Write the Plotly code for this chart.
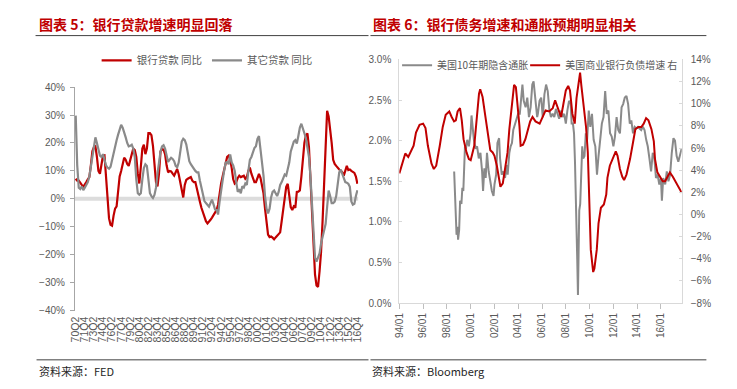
import plotly.graph_objects as go

# ---------------- Left chart data (quarterly, 70Q2 .. 16Q4) ----------------
quarters = []
for i in range(187):
    t = 1970 * 4 + 1 + i
    quarters.append(f"{(t // 4) % 100:02d}Q{t % 4 + 1}")
tick_quarters = quarters[::6]

bank_loans_yoy = [
    7.2, 6.5, 6.5, 5.5, 5, 4.3, 5, 6, 7, 7.8,
    12, 17, 18.5, 18.8, 15, 10, 9, 13, 15.5, 15.6,
    8, -1, -7, -9.3, -9.6, -6, -3.5, -2.7, 4, 8,
    10, 12.5, 14.7, 14, 12.5, 11.8, 14, 16.5, 18, 17.5,
    15, 9, 5.5, 11.5, 18, 19.4, 16, 18, 23.5, 23.5,
    22.8, 19, 12, 6, 4.5, 9, 17, 17.8, 17.6, 16,
    12, 9.5, 10, 9.8, 9, 8.3, 9.5, 10.7, 8.8, 6,
    3.7, 0.5, 5, 6.8, 7.2, 7.5, 7.8, 6.5, 6, 6,
    4, 1.8, -1, -3.2, -5, -6.5, -8, -8.8, -8.3, -7.5,
    -6.7, -5.8, -5.3, -4, -2.1, 2, 5.5, 8, 10.5, 13,
    15, 15.5, 14, 11, 7, 5.5, 6, 7.5, 8.3, 7.8,
    8, 8.3, 7.2, 7.8, 10, 11.2, 9, 7, 6, 6,
    7.5, 8.9, 7.5, 5, 2, -3.5, -9.5, -12.8, -13.7, -13.5,
    -13.9, -14.5, -13.8, -13.1, -12.8, -12, -8, -4, 1.5, 4.3,
    5.4, 2, -3, -4, -2.7, -3.2, 2.5, 2.6, 3, 8,
    15, 20, 22.8, 23.4, 18.5, 8, -6, -17, -27, -31,
    -31.5, -26, -19, -8, 7, 22.3, 31.5, 29.5, 25.5, 20,
    14, 12.5, 11.8, 11, 10.5, 10.1, 9.5, 8.3, 10.5, 11.8,
    10.3, 10.5, 10, 9.5, 9.3, 8, 5.4,
]

other_loans_yoy = [
    29.8, 12, 4, 3.5, 4.5, 3.1, 4, 4.9, 6, 8,
    11.5, 16, 20, 22, 20, 17.5, 15.5, 15, 16, 14,
    12, 11.2, 10.8, 11.5, 14, 17, 19.5, 21, 23, 25,
    26.5, 25.5, 24, 22, 20, 18.8, 19, 19.4, 18, 15,
    7, 2, 1.5, 2, 7, 11, 12.4, 11.8, 7, 2,
    1, 0.3, 1.4, 4, 9, 14, 17, 18.8, 19.2, 18,
    15.3, 13.2, 14, 14.7, 14.3, 13.5, 11.8, 11.3, 13, 17.5,
    20.5, 21.5, 21, 19.5, 16, 13.5, 12.4, 11.5, 10.8, 10,
    9.5, 9.5, 6.5, 3.7, 1.5, -0.8, -1.5, -2.1, -2.8, -1.5,
    -0.3, -2, -3.8, -4, -5.6, -1, 3.5, 6.5, 10, 13,
    13.2, 12.4, 15.9, 13, 12, 10, 6, 2.5, 3.5, 2,
    4.5, 4, 5.5, 5, 10, 14, 15, 16.5, 18.2, 18.8,
    21.5, 22.5, 18, 13, 8.3, 1, -3.5, -5.2, -3.5, 0.5,
    2.5, 3, 2.2, 1, 2.5, 5, 6, 7.5, 8.7, 8.3,
    10.5, 13, 17, 19, 20.5, 21, 19.8, 22.5, 25.5, 26.9,
    25.5, 23.5, 21.7, 19, 15, 8, -3, -13, -21, -22.5,
    -21, -19.5, -16, -14, -11, -9, -3, 3, 1, -1.5,
    -1.5, -1, 1, 5, 9.5, 10.5, 9, 7, 6, 5.8,
    5.4, 4.3, -0.9, -2.1, -1.8, 1, 3.1,
]

# ---------------- Right chart data (decimal years) ----------------
breakeven_time = [
    1998.61, 1998.69, 1998.75, 1998.81, 1998.89, 1998.94, 1999.03, 1999.11, 1999.22, 1999.30,
    1999.38, 1999.44, 1999.52, 1999.60, 1999.71, 1999.85, 1999.99, 2000.07, 2000.18, 2000.27,
    2000.41, 2000.54, 2000.68, 2000.82, 2000.96, 2001.04, 2001.15, 2001.26, 2001.37, 2001.51,
    2001.65, 2001.78, 2001.92, 2002.00, 2002.14, 2002.25, 2002.39, 2002.47, 2002.61, 2002.75,
    2002.89, 2003.03, 2003.11, 2003.25, 2003.36, 2003.47, 2003.58, 2003.72, 2003.85, 2003.99,
    2004.13, 2004.21, 2004.35, 2004.46, 2004.62, 2004.76, 2004.90, 2005.04, 2005.18, 2005.29,
    2005.45, 2005.59, 2005.65, 2005.79, 2005.93, 2006.06, 2006.20, 2006.34, 2006.48, 2006.62,
    2006.75, 2006.89, 2007.03, 2007.17, 2007.31, 2007.44, 2007.58, 2007.72, 2007.86, 2008.00,
    2008.13, 2008.27, 2008.41, 2008.49, 2008.60, 2008.69, 2008.77, 2008.85, 2008.91, 2008.96,
    2009.02, 2009.07, 2009.13, 2009.21, 2009.29, 2009.38, 2009.46, 2009.57, 2009.68, 2009.79,
    2009.93, 2010.06, 2010.20, 2010.34, 2010.48, 2010.62, 2010.75, 2010.89, 2011.03, 2011.17,
    2011.31, 2011.44, 2011.58, 2011.72, 2011.86, 2012.00, 2012.13, 2012.27, 2012.41, 2012.55,
    2012.69, 2012.82, 2012.96, 2013.10, 2013.24, 2013.38, 2013.51, 2013.65, 2013.79, 2013.93,
    2014.07, 2014.20, 2014.34, 2014.48, 2014.62, 2014.76, 2014.89, 2015.03, 2015.17, 2015.31,
    2015.45, 2015.58, 2015.72, 2015.86, 2016.00, 2016.08, 2016.19, 2016.36, 2016.49, 2016.63,
    2016.77, 2016.91, 2017.05, 2017.18, 2017.32, 2017.46, 2017.60, 2017.74,
]
breakeven_10y = [
    1.62, 1.34, 1.06, 0.84, 0.94, 0.78, 0.90, 1.26, 1.22, 1.42,
    1.38, 1.74, 1.93, 1.90, 2.01, 1.93, 2.09, 2.31, 2.13, 2.01,
    1.90, 1.93, 1.78, 1.85, 1.62, 1.38, 1.66, 1.54, 1.85, 1.62,
    1.50, 1.38, 1.32, 1.46, 1.58, 1.97, 2.03, 1.78, 1.58, 1.62,
    1.54, 1.70, 1.58, 1.85, 1.93, 1.97, 2.13, 2.19, 2.25, 2.33,
    2.33, 2.49, 2.69, 2.49, 2.41, 2.53, 2.29, 2.41, 2.69, 2.73,
    2.49, 2.29, 2.33, 2.49, 2.53, 2.29, 2.57, 2.69, 2.61, 2.37,
    2.29, 2.33, 2.29, 2.39, 2.33, 2.27, 2.37, 2.29, 2.33, 2.21,
    2.37, 2.49, 2.45, 2.21, 2.21, 2.09, 1.74, 1.34, 0.90, 0.54,
    0.10, 0.54, 1.14, 1.22, 1.54, 1.93, 1.78, 1.81, 2.09, 2.01,
    2.37, 2.17, 2.33, 2.01, 1.93, 1.58, 1.81, 2.01, 2.21, 2.29,
    2.61, 2.33, 2.37, 2.09, 2.05, 1.93, 2.05, 2.29, 2.13, 2.09,
    2.41, 2.45, 2.53, 2.55, 2.45, 2.21, 2.25, 2.09, 2.17, 2.15,
    2.17, 2.15, 2.13, 2.17, 2.13, 2.01, 1.93, 1.78, 1.62, 1.85,
    1.78, 1.54, 1.58, 1.46, 1.54, 1.26, 1.54, 1.46, 1.62, 1.50,
    1.58, 1.85, 2.03, 2.00, 1.81, 1.74, 1.81, 1.90,
]

liab_time = [
    1994.00, 1994.20, 1994.50, 1994.75, 1995.20, 1995.40, 1995.70, 1996.00, 1996.20, 1996.40,
    1996.70, 1996.90, 1997.10, 1997.40, 1997.65, 1997.90, 1998.20, 1998.40, 1998.60, 1998.75,
    1998.90, 1999.10, 1999.25, 1999.40, 1999.65, 1999.85, 2000.00, 2000.30, 2000.50, 2000.70,
    2000.80, 2001.00, 2001.20, 2001.45, 2001.65, 2001.85, 2002.00, 2002.20, 2002.35, 2002.50,
    2002.70, 2002.90, 2003.10, 2003.25, 2003.45, 2003.65, 2003.80, 2003.95, 2004.10, 2004.20,
    2004.40, 2004.60, 2004.80, 2005.00, 2005.20, 2005.45, 2005.80, 2006.05, 2006.30, 2006.60,
    2006.90, 2007.10, 2007.25, 2007.45, 2007.60, 2007.80, 2008.00, 2008.20, 2008.35, 2008.55,
    2008.75, 2008.90, 2009.10, 2009.20, 2009.30, 2009.50, 2009.70, 2009.85, 2010.00, 2010.10,
    2010.30, 2010.40, 2010.60, 2010.75, 2010.95, 2011.20, 2011.40, 2011.50, 2011.70, 2011.95,
    2012.20, 2012.35, 2012.55, 2012.75, 2012.90, 2013.10, 2013.40, 2013.65, 2013.85, 2014.10,
    2014.35, 2014.55, 2014.75, 2014.95, 2015.20, 2015.40, 2015.50, 2015.70, 2016.00, 2016.15,
    2016.35, 2016.55, 2016.75, 2017.00, 2017.20, 2017.40, 2017.60, 2017.75,
]
bank_liab_growth = [
    3.7, 4.4, 5.5, 5.2, 6.2, 7.4, 8.1, 8.2, 7.8, 6.2,
    4.6, 4.1, 4.4, 6.2, 7.9, 9.0, 9.3, 8.8, 8.4, 8.5,
    9.3, 9.6, 8.5, 6.8, 5.6, 5.0, 4.9, 6.2, 8.8, 10.9,
    11.3, 10.6, 9.1, 7.4, 5.8, 5.6, 5.3, 4.4, 3.3, 2.5,
    2.8, 4.1, 5.6, 7.7, 10.0, 11.7, 11.5, 10.0, 8.0, 6.2,
    6.3, 6.8, 7.7, 8.4, 8.8, 8.4, 8.2, 8.8, 9.4, 9.3,
    9.6, 10.3, 9.8, 9.1, 8.8, 10.0, 11.2, 11.6, 11.2, 9.1,
    8.2, 10.5, 12.2, 12.8, 11.7, 9.7, 7.9, 5.6, 0.9, -3.2,
    -5.2, -4.9, -3.2, -0.8, 0.6, 0.9, 1.8, 3.3, 4.4, 5.0,
    5.7, 5.3, 4.1, 3.4, 3.1, 3.6, 5.0, 6.5, 7.7, 7.9,
    7.9, 8.2, 8.7, 8.5, 7.7, 6.6, 5.0, 3.8, 3.3, 3.0,
    3.0, 3.4, 3.8, 3.4, 3.0, 2.7, 2.2, 1.95,
]

right_tick_years = list(range(1994, 2017, 2))
right_tick_text = [f"{y % 100:02d}/01" for y in right_tick_years]

# ---------------- styling ----------------
W, H = 737, 389
RED = "#C00000"
GRAY = "#8A8A8A"
TXT = "#595959"
TICKFONT = dict(family="Liberation Sans, Arial, sans-serif", size=10, color=TXT)
CJK = "Noto Sans CJK SC"


def px_x(p):
    return p / W


def px_y(p):
    return 1 - p / H


fig = go.Figure()

fig.add_trace(go.Scatter(
    x=quarters, y=bank_loans_yoy, name="银行贷款 同比", mode="lines",
    line=dict(color=RED, width=2.2), xaxis="x", yaxis="y", legend="legend",
))
fig.add_trace(go.Scatter(
    x=quarters, y=other_loans_yoy, name="其它贷款 同比", mode="lines",
    line=dict(color=GRAY, width=2.2), xaxis="x", yaxis="y", legend="legend",
))
fig.add_trace(go.Scatter(
    x=breakeven_time, y=breakeven_10y, name="美国10年期隐含通胀", mode="lines",
    line=dict(color=GRAY, width=2), xaxis="x2", yaxis="y2", legend="legend2",
))
fig.add_trace(go.Scatter(
    x=liab_time, y=bank_liab_growth, name="美国商业银行负债增速 右", mode="lines",
    line=dict(color=RED, width=2), xaxis="x2", yaxis="y3", legend="legend3",
))

legend_common = dict(
    orientation="h", yanchor="middle", xanchor="left",
    bgcolor="rgba(0,0,0,0)", itemwidth=30,
)

fig.update_layout(
    width=W, height=H,
    margin=dict(l=0, r=0, t=0, b=0),
    paper_bgcolor="white", plot_bgcolor="white",
    showlegend=True,
    xaxis=dict(
        domain=[px_x(70), px_x(357.5)], type="category",
        categoryorder="array", categoryarray=quarters,
        range=[-0.5, len(quarters) - 0.5],
        tickmode="array", tickvals=tick_quarters, ticktext=tick_quarters,
        tickangle=-90, tickfont=dict(family="Liberation Sans, Arial, sans-serif", size=10.5, color=TXT),
        showgrid=False, showline=False, zeroline=False, ticks="",
        ticklabelstandoff=3,
        anchor="y",
    ),
    yaxis=dict(
        domain=[px_y(314.5), px_y(84.5)], range=[-40, 40], dtick=10,
        ticksuffix="%", tickfont=TICKFONT,
        showgrid=False, zeroline=False, showline=True, linecolor="#A6A6A6", linewidth=1,
        ticks="outside", ticklen=4, tickcolor="#A6A6A6",
        ticklabelstandoff=3,
        anchor="x",
    ),
    xaxis2=dict(
        domain=[px_x(399.3), px_x(686)], range=[1994, 2017.75],
        tickmode="array", tickvals=right_tick_years, ticktext=right_tick_text,
        tickangle=-90, tickfont=TICKFONT,
        showgrid=False, zeroline=False, showline=True, linecolor="#D9D9D9", linewidth=1,
        ticks="outside", ticklen=5, tickcolor="#BFBFBF",
        anchor="y2",
    ),
    yaxis2=dict(
        domain=[px_y(306.7), px_y(56)], range=[0, 3], dtick=0.5, tickformat=".1f",
        ticksuffix="%", tickfont=TICKFONT,
        showgrid=False, zeroline=False, showline=True, linecolor="#D9D9D9", linewidth=1,
        ticks="inside", ticklen=3, tickcolor="#D9D9D9",
        ticklabelstandoff=5,
        anchor="x2",
    ),
    yaxis3=dict(
        overlaying="y2", side="right", range=[-8, 14], dtick=2,
        ticksuffix="%", tickfont=TICKFONT,
        showgrid=False, zeroline=False, showline=True, linecolor="#D9D9D9", linewidth=1,
        ticks="inside", ticklen=3, tickcolor="#D9D9D9",
        ticklabelstandoff=6,
        anchor="x2",
    ),
    legend=dict(
        legend_common, x=px_x(92), y=px_y(57),
        font=dict(family=CJK, size=10.5, color=TXT),
    ),
    legend2=dict(
        legend_common, x=px_x(397), y=px_y(62),
        font=dict(family=CJK, size=10, color=TXT),
    ),
    legend3=dict(
        legend_common, x=px_x(527), y=px_y(62),
        font=dict(family=CJK, size=10, color=TXT),
    ),
)

# zero band on the left chart (the category axis line)
fig.add_shape(type="line", xref="x domain", yref="y", x0=0, x1=1, y0=0, y1=0,
              line=dict(color="#DCDCDC", width=4), layer="below")

# title underlines and footer lines
for x0, x1, y in [(30, 368, 31.5), (370, 711, 31.5)]:
    fig.add_shape(type="line", xref="paper", yref="paper",
                  x0=px_x(x0), x1=px_x(x1), y0=px_y(y), y1=px_y(y),
                  line=dict(color="#404040", width=1))
for x0, x1, y in [(31, 368, 365), (370, 711, 365)]:
    fig.add_shape(type="line", xref="paper", yref="paper",
                  x0=px_x(x0), x1=px_x(x1), y0=px_y(y), y1=px_y(y),
                  line=dict(color="#808080", width=1.5))

titles = [
    ("图表 5：银行贷款增速明显回落", 31),
    ("图表 6：银行债务增速和通胀预期明显相关", 371),
]
for text, x in titles:
    fig.add_annotation(text=f"<b>{text}</b>", xref="paper", yref="paper",
                       x=px_x(x), y=px_y(20), xanchor="left", yanchor="middle",
                       showarrow=False,
                       font=dict(family=CJK, size=14, color=RED))

sources = [("资料来源：FED", 31), ("资料来源：Bloomberg", 370)]
for text, x in sources:
    fig.add_annotation(text=text, xref="paper", yref="paper",
                       x=px_x(x), y=px_y(377), xanchor="left", yanchor="middle",
                       showarrow=False,
                       font=dict(family="Noto Sans CJK SC, serif", size=11, color="#262626"))

fig.write_html(
    "out.html",
    config={"displayModeBar": False},
    post_script="document.body.style.margin='0';document.body.style.overflow='hidden';",
)
